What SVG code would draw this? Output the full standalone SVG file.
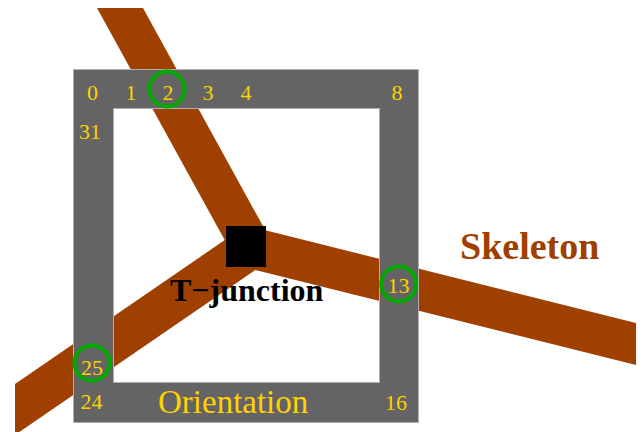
<svg xmlns="http://www.w3.org/2000/svg" width="643" height="432" viewBox="0 0 643 432">
<style>
.num{font-family:"Liberation Serif","Times New Roman",serif;font-size:22px;fill:#FFD200;text-anchor:middle}
.mark{fill:none;stroke:#00A800;stroke-width:4}
</style>
<rect width="643" height="432" fill="#ffffff"/>
<g id="skeleton">
<polygon points="97,8 143,8 265.3,230.3 636,323 636,365 255.4,269.9 15,435 15,384 224.7,240.1" fill="#A04000"/>
</g>
<g id="frame">
<path d="M73.5,69.5 H418.5 V422.5 H73.5 Z M113.5,108.5 V382.5 H379.5 V108.5 Z" fill="#646464" fill-rule="evenodd" stroke="#B0B0B0" stroke-width="1"/>
</g>
<g id="junction">
<rect x="226" y="226" width="40" height="41" fill="#000000"/>
<text x="170" y="301" font-family="'Liberation Serif','Times New Roman',serif" font-size="32" font-weight="bold" fill="#000000">T−junction</text>
</g>
<g id="labels">
<text class="num" x="92.5" y="100">0</text>
<text class="num" x="131" y="100">1</text>
<text class="num" x="168" y="100">2</text>
<text class="num" x="208" y="100">3</text>
<text class="num" x="246" y="100">4</text>
<text class="num" x="397" y="100">8</text>
<text class="num" x="90" y="139">31</text>
<text class="num" x="398.5" y="293">13</text>
<text class="num" x="92" y="375">25</text>
<text class="num" x="91.5" y="409">24</text>
<text class="num" x="396" y="410">16</text>
</g>
<g id="markers">
<circle class="mark" cx="167" cy="89" r="17.5"/>
<circle class="mark" cx="398.7" cy="284" r="17.5"/>
<circle class="mark" cx="92" cy="363" r="17.5"/>
</g>
<g id="orientation">
<text x="158" y="413" font-family="'Liberation Serif','Times New Roman',serif" font-size="33" fill="#FFD200">Orientation</text>
</g>
<g id="skeleton-label">
<text x="460" y="259" font-family="'Liberation Serif','Times New Roman',serif" font-size="38" font-weight="bold" fill="#A04000">Skeleton</text>
</g>
</svg>
